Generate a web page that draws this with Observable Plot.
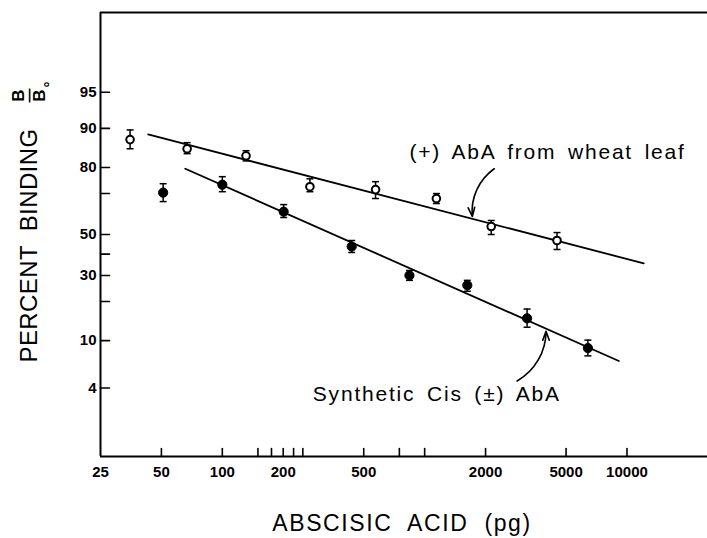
<!DOCTYPE html>
<html><head><meta charset="utf-8">
<script src="https://cdn.jsdelivr.net/npm/d3@7"></script>
<script src="https://cdn.jsdelivr.net/npm/@observablehq/plot@0.6"></script>
<style>
html,body{margin:0;padding:0;background:#fff;}
</style>
</head><body><div id="chart"></div>
<script>
// Open circles: (+) AbA from wheat leaf
const wheatDose    = [35, 67, 131, 271, 572, 1143, 2133, 4510];
const wheatBinding = [87.7, 85.5, 83.6, 72.9, 71.7, 67.8, 54.1, 46.9];
const wheatLow     = [85.5, 84.2, 82.1, 70.8, 67.8, 65.5, 50.0, 42.3];
const wheatHigh    = [89.7, 87.0, 85.0, 76.0, 74.9, 70.0, 57.2, 51.0];
// Filled circles: Synthetic Cis (±) AbA
const synthDose    = [51, 100, 201, 436, 841, 1625, 3208, 6410];
const synthBinding = [70.4, 73.7, 61.6, 43.8, 30.0, 25.9, 15.0, 8.7];
const synthLow     = [66.4, 70.8, 58.7, 40.8, 27.9, 23.6, 12.8, 7.5];
const synthHigh    = [74.1, 76.8, 65.0, 46.9, 32.2, 27.9, 17.6, 10.1];
// Fitted lines (end points)
const wheatFitDose = [43, 12100];
const wheatFitBinding = [88.8, 35.5];
const synthFitDose = [65.6, 9115];
const synthFitBinding = [79.6, 6.8];
// Axes
const xTickLabels = [25, 50, 100, 200, 500, 2000, 5000, 10000];
const xTickMarks = [50, 100, 150, 175, 200, 225, 250, 500, 750, 1000, 2000, 5000, 10000];
const yTickLabels = [95, 90, 80, 50, 30, 10, 4];
const yTickMarks = [95, 90, 80, 70, 50, 40, 30, 20, 10, 4];
const xDomain = [25, 25000];
const yDomain = [1, 99];
const xTitle = "ABSCISIC  ACID  (pg)";
const yTitle = "PERCENT  BINDING";
// Annotations
const annotationText = ["(+) AbA from wheat leaf", "Synthetic Cis (±) AbA"];
const annotationDose = [841, 280];
const annotationBinding = [84.7, 3.5];
const arrowFromDose = [2207, 2865];
const arrowFromBinding = [79.6, 4.6];
const arrowToDose = [1720, 3980];
const arrowToBinding = [59.2, 11.9];

const logit = p => Math.log(p / (100 - p));

const wheat = wheatDose.map((x, i) => ({x, p: wheatBinding[i], lo: wheatLow[i], hi: wheatHigh[i]}));
const synth = synthDose.map((x, i) => ({x, p: synthBinding[i], lo: synthLow[i], hi: synthHigh[i]}));
const wheatFit = wheatFitDose.map((x, i) => ({x, p: wheatFitBinding[i]}));
const synthFit = synthFitDose.map((x, i) => ({x, p: synthFitBinding[i]}));
const annots = annotationText.map((t, i) => ({t, x: annotationDose[i], p: annotationBinding[i]}));
const arrows = arrowFromDose.map((x1, i) => ({x1, p1: arrowFromBinding[i], x2: arrowToDose[i], p2: arrowToBinding[i]}));
const allPts = wheat.concat(synth);

const capSymbol = {draw(ctx, size) { const r = Math.sqrt(size / Math.PI); ctx.moveTo(-r, 0); ctx.lineTo(r, 0); }};
const tickShape = {draw(ctx, l) { ctx.moveTo(0, 0); ctx.lineTo(0, -l); }};
const font = "'Liberation Sans', Arial, sans-serif";
const fracStyle = {frameAnchor: "left", rotate: -90, textAnchor: "middle", lineAnchor: "middle",
  fontWeight: "bold", fontFamily: font, fill: "#000"};

const chart = Plot.plot({
  width: 707,
  height: 538,
  marginLeft: 100,
  marginRight: 0,
  marginTop: 12,
  marginBottom: 82,
  style: {background: "#fff", color: "#000"},
  x: {type: "log", domain: xDomain, axis: null},
  y: {type: "linear", domain: yDomain.map(logit), axis: null},
  marks: [
    // frame lines
    Plot.ruleX([xDomain[0]], {stroke: "#000", strokeWidth: 2}),
    Plot.ruleY([logit(yDomain[0])], {stroke: "#000", strokeWidth: 2}),
    Plot.ruleY([logit(yDomain[1])], {stroke: "#000", strokeWidth: 2}),
    // inward ticks
    Plot.vector(xTickMarks, {x: d => d, frameAnchor: "bottom", length: 8, anchor: "start",
      shape: tickShape, stroke: "#000", strokeWidth: 1.6}),
    Plot.vector(yTickMarks, {y: d => logit(d), frameAnchor: "left", length: 9, rotate: 90, anchor: "start",
      shape: tickShape, stroke: "#000", strokeWidth: 1.6}),
    // tick labels
    Plot.text(xTickLabels, {x: d => d, text: d => String(d), frameAnchor: "bottom", lineAnchor: "top", dy: 10,
      fontSize: 15, fontWeight: "bold", fontFamily: font, fill: "#000"}),
    Plot.text(yTickLabels, {y: d => logit(d), text: d => String(d), frameAnchor: "left", textAnchor: "end", dx: -4,
      fontSize: 15, fontWeight: "bold", fontFamily: font, fill: "#000"}),
    // axis titles
    Plot.text([xTitle], {frameAnchor: "bottom", textAnchor: "middle", lineAnchor: "middle", dx: -2, dy: 67,
      fontSize: 23, fontFamily: font, fill: "#000"}),
    Plot.text([yTitle], {frameAnchor: "left", textAnchor: "middle", lineAnchor: "middle", dx: -71, dy: 11,
      rotate: -90, fontSize: 24, fontFamily: font, fill: "#000"}),
    Plot.text(["B"], {...fracStyle, dx: -81.5, dy: -139, fontSize: 17}),
    Plot.text(["—"], {...fracStyle, dx: -71, dy: -139, fontSize: 14}),
    Plot.text(["B"], {...fracStyle, dx: -61, dy: -139, fontSize: 17}),
    Plot.text(["°"], {...fracStyle, dx: -50, dy: -150, fontSize: 15}),
    // fitted lines
    Plot.line(wheatFit, {x: "x", y: d => logit(d.p), stroke: "#000", strokeWidth: 1.8}),
    Plot.line(synthFit, {x: "x", y: d => logit(d.p), stroke: "#000", strokeWidth: 1.8}),
    // error bars
    Plot.ruleX(allPts, {x: "x", y1: d => logit(d.lo), y2: d => logit(d.hi), stroke: "#000", strokeWidth: 1.5}),
    Plot.dot(allPts, {x: "x", y: d => logit(d.lo), symbol: capSymbol, r: 3.5, stroke: "#000", strokeWidth: 1.5}),
    Plot.dot(allPts, {x: "x", y: d => logit(d.hi), symbol: capSymbol, r: 3.5, stroke: "#000", strokeWidth: 1.5}),
    // points
    Plot.dot(wheat, {x: "x", y: d => logit(d.p), r: 3.8, fill: "#fff", stroke: "#000", strokeWidth: 2}),
    Plot.dot(synth, {x: "x", y: d => logit(d.p), r: 4.6, fill: "#000", stroke: "#000", strokeWidth: 1}),
    // annotations
    Plot.text(annots, {x: "x", y: d => logit(d.p), text: "t", textAnchor: "start", fontSize: 21,
      fontFamily: font, fill: "#000"}),
    Plot.arrow(arrows, {x1: "x1", y1: d => logit(d.p1), x2: "x2", y2: d => logit(d.p2), bend: -30,
      stroke: "#000", strokeWidth: 1.6, headLength: 9, headAngle: 40})
  ]
});
// letter spacing for the hand-lettered labels
d3.select(chart).selectAll("text").each(function() {
  const t = this.textContent;
  if (annotationText.includes(t)) d3.select(this).style("letter-spacing", "1.8px").style("word-spacing", "4px");
  else if (t === xTitle) d3.select(this).style("letter-spacing", "1.6px");
  else if (t === yTitle) d3.select(this).style("letter-spacing", "0.4px");
});
document.getElementById("chart").appendChild(chart);
</script>
</body></html>
